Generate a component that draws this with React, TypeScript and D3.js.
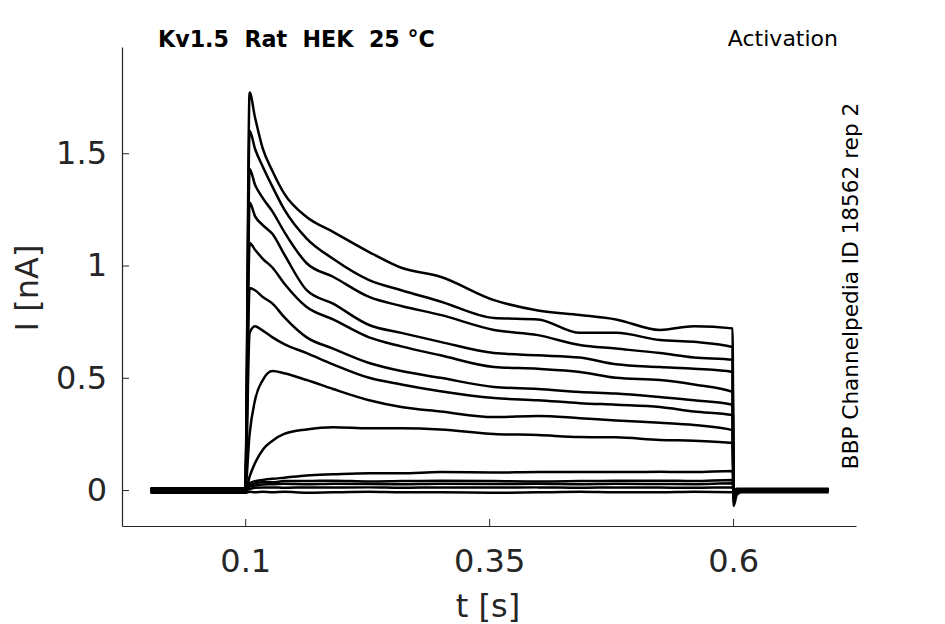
import { useEffect, useRef } from "react"
import * as d3 from "d3"

const WIDTH = 945
const HEIGHT = 624

// sample times (s) shared by all sweeps
const sweepTimes = [
  0.003, 0.1, 0.1045, 0.11, 0.118, 0.128, 0.14, 0.163, 0.19, 0.227, 0.26, 0.3,
  0.355, 0.4, 0.443, 0.48, 0.525, 0.56, 0.5995, 0.6005, 0.604, 0.615, 0.698,
]

// current (nA) per sweep
const sweep01 = [0.004, 0.004, 1.77, 1.66, 1.52, 1.42, 1.32, 1.216, 1.15, 1.06, 0.99, 0.95, 0.846, 0.8, 0.78, 0.76, 0.713, 0.73, 0.72, -0.07, -0.02, 0.0, 0.0]
const sweep02 = [0.0, 0.0, 1.6, 1.52, 1.44, 1.35, 1.25, 1.12, 1.03, 0.935, 0.89, 0.84, 0.766, 0.76, 0.7, 0.7, 0.668, 0.66, 0.637, -0.05, -0.015, 0.0, 0.0]
const sweep03 = [-0.005, -0.005, 1.43, 1.36, 1.3, 1.24, 1.15, 1.01, 0.95, 0.86, 0.82, 0.78, 0.713, 0.69, 0.646, 0.63, 0.61, 0.59, 0.58, -0.04, -0.01, 0.002, 0.002]
const sweep04 = [0.006, 0.006, 1.28, 1.22, 1.18, 1.14, 1.05, 0.89, 0.83, 0.735, 0.7, 0.66, 0.61, 0.6, 0.59, 0.56, 0.548, 0.54, 0.526, -0.03, -0.01, 0.0, 0.0]
const sweep05 = [-0.008, -0.008, 1.1, 1.07, 1.03, 0.99, 0.92, 0.815, 0.76, 0.68, 0.64, 0.6, 0.548, 0.54, 0.526, 0.5, 0.49, 0.47, 0.437, -0.03, -0.008, 0.0, 0.0]
const sweep06 = [0.003, 0.003, 0.9, 0.89, 0.86, 0.83, 0.77, 0.68, 0.63, 0.566, 0.53, 0.5, 0.459, 0.45, 0.437, 0.43, 0.414, 0.4, 0.38, -0.02, -0.005, 0.0, 0.0]
const sweep07 = [-0.004, -0.004, 0.7, 0.73, 0.71, 0.68, 0.65, 0.61, 0.56, 0.5, 0.47, 0.44, 0.41, 0.4, 0.387, 0.38, 0.37, 0.35, 0.334, -0.015, -0.004, 0.0, 0.0]
const sweep08 = [0.008, 0.008, 0.25, 0.4, 0.49, 0.53, 0.52, 0.49, 0.45, 0.4, 0.37, 0.35, 0.325, 0.33, 0.32, 0.31, 0.3, 0.29, 0.267, -0.01, 0.0, 0.004, 0.004]
const sweep09 = [-0.01, -0.01, 0.06, 0.12, 0.18, 0.22, 0.25, 0.27, 0.28, 0.275, 0.275, 0.27, 0.25, 0.245, 0.236, 0.235, 0.223, 0.22, 0.21, -0.01, -0.004, -0.004, -0.004]
const sweep10 = [0.002, 0.002, 0.03, 0.04, 0.045, 0.05, 0.055, 0.065, 0.07, 0.075, 0.075, 0.08, 0.078, 0.08, 0.08, 0.08, 0.082, 0.08, 0.085, -0.005, 0.0, 0.0, 0.0]
const sweep11 = [-0.006, -0.006, 0.02, 0.03, 0.035, 0.035, 0.04, 0.04, 0.042, 0.038, 0.04, 0.042, 0.04, 0.038, 0.04, 0.042, 0.042, 0.04, 0.045, 0.0, 0.0, 0.0, 0.0]
const sweep12 = [0.005, 0.005, 0.015, 0.02, 0.025, 0.026, 0.028, 0.026, 0.028, 0.027, 0.026, 0.028, 0.027, 0.028, 0.026, 0.028, 0.027, 0.026, 0.03, 0.0, 0.006, 0.006, 0.006]
const sweep13 = [-0.002, -0.002, 0.005, 0.01, 0.012, 0.012, 0.01, 0.012, 0.011, 0.012, 0.01, 0.012, 0.011, 0.012, 0.01, 0.012, 0.011, 0.01, 0.012, -0.004, 0.002, 0.002, 0.002]
const sweep14 = [-0.012, -0.012, -0.008, -0.01, -0.008, -0.01, -0.008, -0.012, -0.01, -0.008, -0.01, -0.01, -0.012, -0.01, -0.008, -0.01, -0.01, -0.008, -0.01, -0.012, -0.01, -0.01, -0.01]

const sweeps = [sweep01, sweep02, sweep03, sweep04, sweep05, sweep06, sweep07, sweep08, sweep09, sweep10, sweep11, sweep12, sweep13, sweep14]

const xTicks = [0.1, 0.35, 0.6]
const xTickLabels = ["0.1", "0.35", "0.6"]
const yTicks = [0, 0.5, 1, 1.5]
const yTickLabels = ["0", "0.5", "1", "1.5"]

const FONT = "DejaVu Sans, Verdana, sans-serif"
const AXIS_COLOR = "#262626"

const App = () => {
  const svgRef = useRef<SVGSVGElement | null>(null)

  useEffect(() => {
    if (!svgRef.current) return
    const svg = d3.select(svgRef.current)
    svg.selectAll("*").remove()

    const x = d3.scaleLinear().domain([-0.0263, 0.726]).range([122, 856])
    const y = d3.scaleLinear().domain([-0.16, 1.973]).range([526, 47])

    const line = d3
      .line<number>()
      .x((d, i) => x(sweepTimes[i]))
      .y((d) => y(d))
      .curve(d3.curveMonotoneX)

    // traces
    svg
      .append("g")
      .selectAll("path")
      .data(sweeps)
      .join("path")
      .attr("d", (d) => line(d))
      .attr("fill", "none")
      .attr("stroke", "#000")
      .attr("stroke-width", 2.5)
      .attr("stroke-linejoin", "round")

    // x axis
    const xAxis = d3
      .axisBottom(x)
      .tickValues(xTicks)
      .tickFormat((d, i) => xTickLabels[i])
      .tickSizeInner(-7)
      .tickSizeOuter(0)
      .tickPadding(23)
    const gx = svg.append("g").attr("transform", "translate(0,526)").call(xAxis)
    gx.select(".domain").attr("stroke", AXIS_COLOR).attr("stroke-width", 1.2)
    gx.selectAll(".tick line").attr("stroke", AXIS_COLOR)
    gx.selectAll(".tick text")
      .attr("fill", AXIS_COLOR)
      .attr("font-family", FONT)
      .attr("font-size", 32)

    // y axis
    const yAxis = d3
      .axisLeft(y)
      .tickValues(yTicks)
      .tickFormat((d, i) => yTickLabels[i])
      .tickSizeInner(-7)
      .tickSizeOuter(0)
      .tickPadding(15)
    const gy = svg.append("g").attr("transform", "translate(122,0)").call(yAxis)
    gy.select(".domain").attr("stroke", AXIS_COLOR).attr("stroke-width", 1.2)
    gy.selectAll(".tick line").attr("stroke", AXIS_COLOR)
    gy.selectAll(".tick text")
      .attr("fill", AXIS_COLOR)
      .attr("font-family", FONT)
      .attr("font-size", 32)

    // axis labels
    svg
      .append("text")
      .attr("x", 488)
      .attr("y", 617)
      .attr("text-anchor", "middle")
      .attr("font-family", FONT)
      .attr("font-size", 32)
      .attr("fill", AXIS_COLOR)
      .text("t [s]")

    svg
      .append("text")
      .attr("transform", "translate(38,288) rotate(-90)")
      .attr("text-anchor", "middle")
      .attr("font-family", FONT)
      .attr("font-size", 32)
      .attr("fill", AXIS_COLOR)
      .text("I [nA]")

    // title and annotations
    svg
      .append("text")
      .attr("x", 158)
      .attr("y", 47)
      .attr("font-family", FONT)
      .attr("font-size", 22.2)
      .attr("font-weight", "bold")
      .attr("fill", "#000")
      .style("white-space", "pre")
      .text("Kv1.5  Rat  HEK  25 °C")

    svg
      .append("text")
      .attr("x", 838)
      .attr("y", 46)
      .attr("text-anchor", "end")
      .attr("font-family", FONT)
      .attr("font-size", 22)
      .attr("fill", "#000")
      .text("Activation")

    svg
      .append("text")
      .attr("transform", "translate(858,286) rotate(-90)")
      .attr("text-anchor", "middle")
      .attr("font-family", FONT)
      .attr("font-size", 21.6)
      .attr("fill", "#000")
      .text("BBP Channelpedia ID 18562 rep 2")
  }, [])

  return (
    <svg
      ref={svgRef}
      width={WIDTH}
      height={HEIGHT}
      style={{ position: "absolute", left: 0, top: 0, background: "#fff" }}
    />
  )
}

export default App
